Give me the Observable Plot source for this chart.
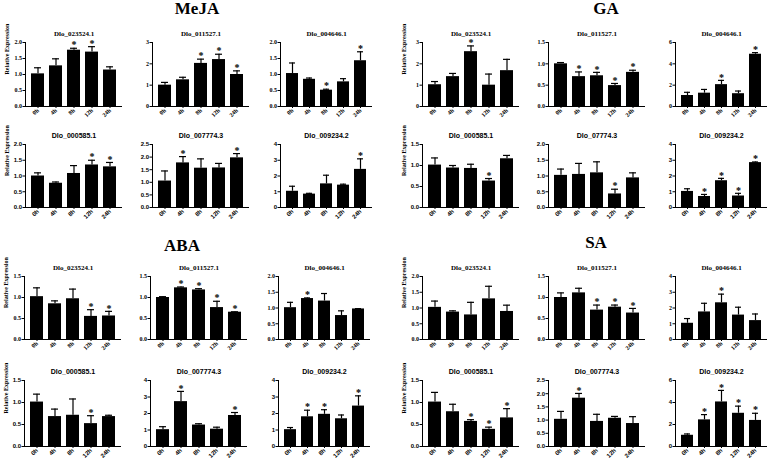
<!DOCTYPE html>
<html><head><meta charset="utf-8">
<script src="https://cdn.jsdelivr.net/npm/d3@7"></script>
<script src="https://cdn.jsdelivr.net/npm/@observablehq/plot@0.6"></script>
<style>
body{margin:0;background:#fff;}
#root{position:relative;width:778px;height:459px;overflow:hidden;background:#fff;}
.qt{position:absolute;font-family:"Liberation Serif",serif;font-weight:bold;font-size:17px;transform:translate(-50%,-50%);white-space:nowrap;color:#000;}
.cell{position:absolute;}
</style></head><body><div id="root"></div><script>
const times = ["0h","4h","8h","12h","24h"];
const treatments = ["MeJA","GA","ABA","SA"];

const mejaGenes = ["Dlo_023524.1","Dlo_011527.1","Dlo_004646.1","Dlo_000585.1","Dlo_007774.3","Dlo_009234.2"];
const mejaMean = [[1.02,1.27,1.76,1.70,1.14],[1.00,1.25,2.02,2.20,1.50],[1.03,0.85,0.51,0.77,1.43],[1.00,0.77,1.08,1.35,1.29],[1.05,1.77,1.56,1.57,1.97],[1.03,0.85,1.50,1.42,2.42]];
const mejaErr  = [[0.19,0.22,0.06,0.17,0.10],[0.13,0.12,0.20,0.25,0.17],[0.33,0.04,0.03,0.10,0.28],[0.10,0.04,0.25,0.15,0.14],[0.40,0.25,0.37,0.18,0.17],[0.32,0.05,0.55,0.06,0.67]];
const mejaSig  = [[0,0,1,1,0],[0,0,1,1,1],[0,0,1,0,1],[0,0,0,1,1],[0,1,0,0,1],[0,0,0,0,1]];
const mejaYMax = [2,3,2,2,2.5,4];
const mejaYStep = [0.5,1,0.5,0.5,0.5,1];

const gaGenes = ["Dlo_023524.1","Dlo_011527.1","Dlo_004646.1","Dlo_000585.1","Dlo_07774.3","Dlo_009234.2"];
const gaMean = [[1.02,1.40,2.57,1.00,1.68],[1.00,0.70,0.72,0.49,0.80],[1.03,1.25,2.05,1.20,4.90],[1.01,0.94,0.93,0.63,1.16],[1.02,1.05,1.10,0.43,0.94],[1.02,0.70,1.70,0.73,2.85]];
const gaErr  = [[0.15,0.15,0.27,0.52,0.53],[0.03,0.11,0.08,0.05,0.05],[0.30,0.35,0.40,0.25,0.15],[0.17,0.06,0.10,0.06,0.08],[0.20,0.35,0.35,0.15,0.16],[0.17,0.13,0.15,0.17,0.04]];
const gaSig  = [[0,0,1,0,0],[0,1,1,1,1],[0,0,1,0,1],[0,0,0,1,0],[0,0,0,1,0],[0,1,1,1,1]];
const gaYMax = [3,1.5,6,1.5,2,4];
const gaYStep = [1,0.5,2,0.5,0.5,1];

const abaGenes = ["Dlo_023524.1","Dlo_011527.1","Dlo_004646.1","Dlo_000585.1","Dlo_007774.3","Dlo_009234.2"];
const abaMean = [[1.02,0.85,0.97,0.55,0.56],[1.00,1.23,1.18,0.76,0.65],[1.01,1.30,1.22,0.76,0.97],[1.01,0.68,0.71,0.52,0.68],[1.02,2.72,1.30,1.05,1.88],[1.02,1.80,1.95,1.68,2.45]];
const abaErr  = [[0.21,0.07,0.23,0.16,0.11],[0.02,0.02,0.03,0.15,0.01],[0.17,0.02,0.24,0.15,0.01],[0.18,0.17,0.37,0.18,0.03],[0.18,0.62,0.08,0.12,0.18],[0.13,0.40,0.28,0.23,0.62]];
const abaSig  = [[0,0,0,1,1],[0,1,1,1,1],[0,1,0,0,0],[0,0,0,1,0],[0,1,0,0,1],[0,1,1,0,1]];
const abaYMax = [1.5,1.5,2,1.5,4,4];
const abaYStep = [0.5,0.5,0.5,0.5,1,1];

const saGenes = ["Dlo_023524.1","Dlo_011527.1","Dlo_004646.1","Dlo_000585.1","Dlo_007774.3","Dlo_009234.2"];
const saMean = [[1.02,0.87,0.78,1.29,0.89],[1.00,1.11,0.70,0.77,0.63],[1.03,1.75,2.33,1.55,1.20],[1.01,0.79,0.57,0.39,0.65],[1.03,1.83,0.95,1.07,0.87],[1.02,2.42,4.05,3.02,2.37]];
const saErr  = [[0.20,0.04,0.40,0.40,0.20],[0.11,0.11,0.12,0.05,0.11],[0.30,0.55,0.55,0.50,0.42],[0.22,0.17,0.04,0.05,0.21],[0.30,0.18,0.27,0.07,0.26],[0.12,0.48,1.05,0.65,0.65]];
const saSig  = [[0,0,0,0,0],[0,0,1,1,1],[0,0,1,0,0],[0,0,1,1,1],[0,1,0,0,0],[0,1,1,1,1]];
const saYMax = [2,1.5,4,1.5,2.5,6];
const saYStep = [0.5,0.5,1,0.5,0.5,2];

const yLabel = "Relative Expression";

// layout (pixel positions of each quadrant's grid)
const layout = [
  {title:[197,9],  cols:[25,152,280],  tops:[42,144], hts:[64,63]},
  {title:[606,9],  cols:[422,548,675], tops:[42,144], hts:[64,63]},
  {title:[182,246],cols:[24,150,278],  tops:[276,380],hts:[63,66]},
  {title:[596,243],cols:[422,548,675], tops:[276,380],hts:[63,66]}
];
const pws = [97,97,92];
const ML = 30, MR = 4, MT = 20, MB = 16;

const dataSets = [
  [mejaGenes,mejaMean,mejaErr,mejaSig,mejaYMax,mejaYStep],
  [gaGenes,gaMean,gaErr,gaSig,gaYMax,gaYStep],
  [abaGenes,abaMean,abaErr,abaSig,abaYMax,abaYStep],
  [saGenes,saMean,saErr,saSig,saYMax,saYStep]
];

const serif = '"Liberation Serif", serif';
const sans = '"Liberation Sans", sans-serif';

function panel(gene, mean, err, sig, yMax, yStep, pw, ph, withLabel, font) {
  const rows = times.map((t,i)=>({t, v: mean[i], top: mean[i]+err[i], s: sig[i]}));
  const ticks = d3.range(0, yMax + yStep/2, yStep);
  const fmt = yStep < 1 ? d3.format(".1f") : d3.format("d");
  const marks = [
    Plot.barY(rows, {x:"t", y:"v", fill:"black"}),
    Plot.ruleX(rows, {x:"t", y1:"v", y2:"top", stroke:"black", strokeWidth:1.2}),
    Plot.tickY(rows, {x:"t", y:"top", stroke:"black", strokeWidth:1.2, insetLeft:3, insetRight:3}),
    Plot.text(rows.filter(d=>d.s), {x:"t", y:"top", text:()=>"*", dy:-3, fontSize:10, fontWeight:"bold", fontFamily: serif, fill:"black"}),
    Plot.ruleY([0], {stroke:"black", strokeWidth:1}),
    Plot.frame({anchor:"left", stroke:"black", strokeWidth:1}),
    Plot.axisY({ticks, tickFormat: fmt, tickSize:2.5, tickPadding:1, label:null, fill:"black"}),
    Plot.axisX({tickRotate:-45, tickSize:2, tickPadding:1, label:null, fill:"black"}),
    Plot.text([gene], {frameAnchor:"top", dy:-11, text:d=>d, fontWeight:"bold", fontSize:7, fontFamily: font, fill:"black"})
  ];
  if (withLabel) marks.push(Plot.text([yLabel], {frameAnchor:"left", rotate:-90, dx:-18, text:d=>d, fontSize:6, fontWeight:"bold", fontFamily: serif, fill:"black"}));
  return Plot.plot({
    width: ML + pw + MR, height: MT + ph + MB,
    marginLeft: ML, marginRight: MR, marginTop: MT, marginBottom: MB,
    x: {domain: times, paddingInner: 0.27, paddingOuter: 0.2},
    y: {domain: [0, yMax]},
    style: {fontFamily: font, fontSize: "6px", fontWeight: "bold", color: "black", background: "transparent"},
    marks
  });
}

const root = document.getElementById("root");
treatments.forEach((name, q) => {
  const L = layout[q];
  const [genes, means, errs, sigs, ymaxs, ysteps] = dataSets[q];
  const t = document.createElement("div");
  t.className = "qt"; t.textContent = name;
  t.style.left = L.title[0] + "px"; t.style.top = L.title[1] + "px";
  root.appendChild(t);
  for (let k = 0; k < 6; k++) {
    const r = Math.floor(k/3), c = k % 3;
    const ph = L.hts[r], pw = pws[c];
    const svg = panel(genes[k], means[k], errs[k], sigs[k], ymaxs[k], ysteps[k], pw, ph, c === 0, r === 0 ? serif : sans);
    const d = document.createElement("div");
    d.className = "cell";
    d.style.left = (L.cols[c] - ML) + "px";
    d.style.top = (L.tops[r] - MT) + "px";
    d.appendChild(svg);
    root.appendChild(d);
  }
});
</script></body></html>
